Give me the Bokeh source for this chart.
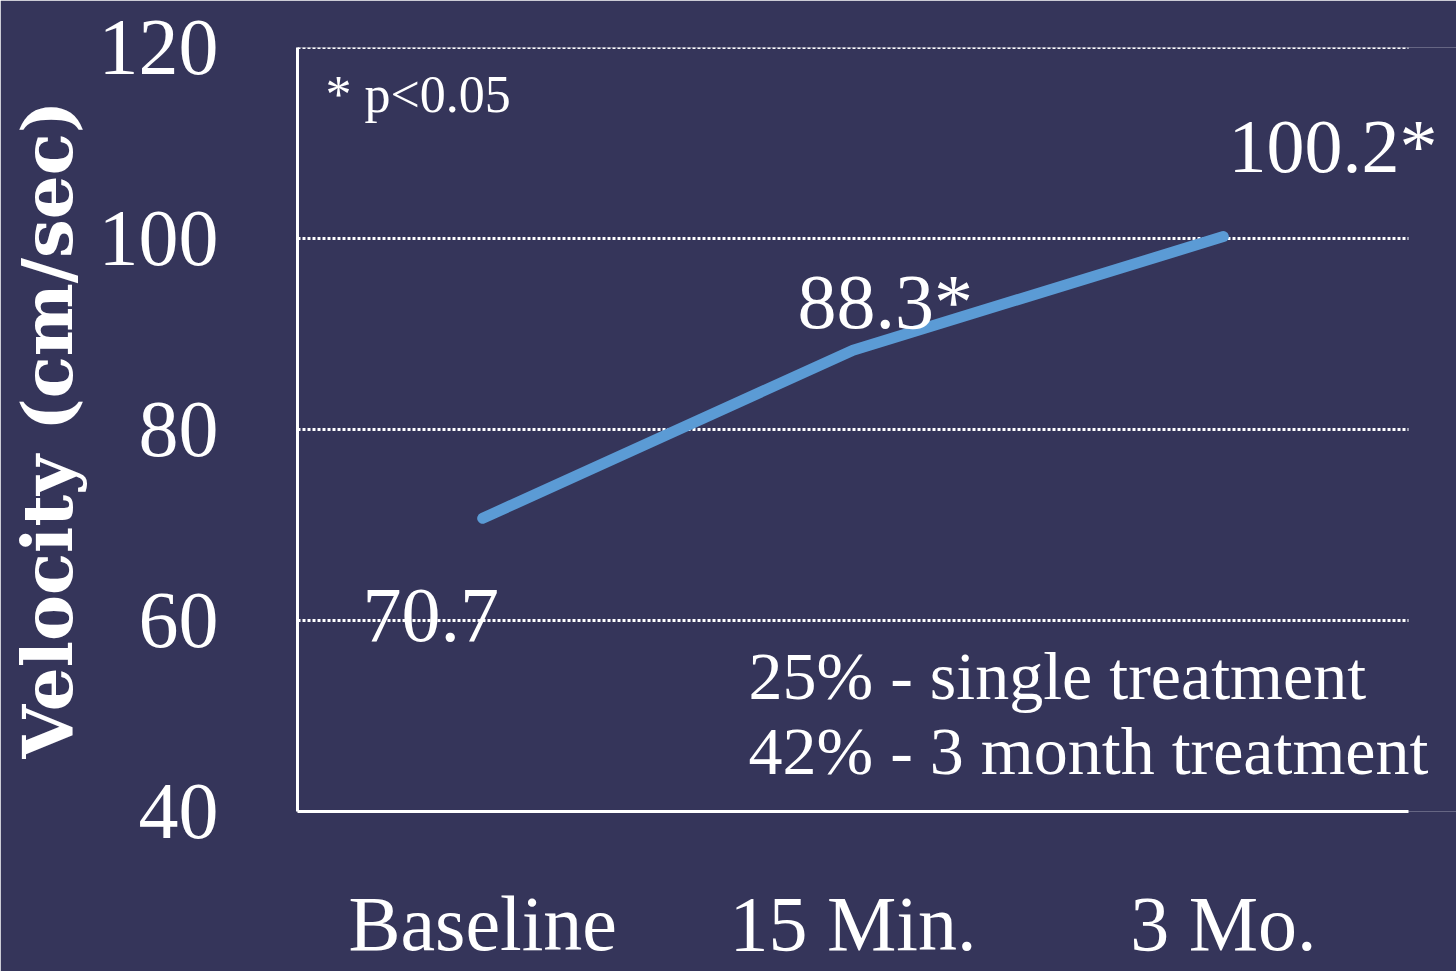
from bokeh.plotting import figure
from bokeh.models import Range1d, FixedTicker, Label
from bokeh.embed import file_html
from bokeh.resources import INLINE

# Mean velocity at each time point
categories = ["Baseline", "15 Min.", "3 Mo."]
velocity = [70.7, 88.3, 100.2]
significant = [False, True, True]
y_ticks = [40, 60, 80, 100, 120]
grid_levels = [60, 80, 100, 120]
notes = ["25% - single treatment", "42% - 3 month treatment"]

BG = "#35355a"
WHITE = "#ffffff"
LINE = "#5b9bd5"
SERIF = "Liberation Serif"

n = len(categories)
xs = [i + 0.5 for i in range(n)]

# plotting area runs to the right edge so that labels past the last
# category are not clipped; axis and grid stop at the last category slot
x_end = n * 1159 / 1111

p = figure(
    width=1456, height=971,
    x_range=Range1d(0, x_end), y_range=Range1d(40, 120),
    output_backend="svg", toolbar_location=None,
    min_border_left=297, min_border_right=0,
    min_border_top=47, min_border_bottom=160,
    background_fill_color=BG, border_fill_color=BG,
    outline_line_color=None,
)

# axes
p.xaxis.ticker = FixedTicker(ticks=xs)
p.xaxis.major_label_overrides = {x: c for x, c in zip(xs, categories)}
p.xaxis.bounds = (0, n)
p.yaxis.ticker = FixedTicker(ticks=y_ticks)
for ax in (p.xaxis[0], p.yaxis[0]):
    ax.axis_line_color = WHITE
    ax.axis_line_width = 3
    ax.major_tick_line_color = None
    ax.minor_tick_line_color = None
    ax.major_label_text_color = WHITE
    ax.major_label_text_font = SERIF

p.xaxis.major_label_text_font_size = "78px"
p.xaxis.major_label_standoff = 62
p.yaxis.major_label_text_font_size = "80px"
p.yaxis.major_label_standoff = 73

p.yaxis.axis_label = "Velocity (cm/sec)"
p.yaxis.axis_label_text_font = "DejaVu Serif"
p.yaxis.axis_label_text_font_style = "bold"
p.yaxis.axis_label_text_font_size = "69px"
p.yaxis.axis_label_text_color = WHITE
p.yaxis.axis_label_standoff = 8

# dotted horizontal grid across the category slots
p.xgrid.grid_line_color = None
p.ygrid.grid_line_color = None
p.segment(x0=[0] * len(grid_levels), x1=[n] * len(grid_levels),
          y0=grid_levels, y1=grid_levels,
          line_color=WHITE, line_width=3, line_dash="3 2")

# velocity line
p.line(xs, velocity, line_color=LINE, line_width=11, line_cap="round",
       line_join="round")

# value labels around each point
label_specs = [
    # (dx, dy, align, size)
    (-0.14, -10.2, "center", "78px"),
    (-0.15, 5.1, "left", "78px"),
    (0.014, 9.5, "left", "76px"),
]
for x, v, sig, (dx, dy, align, size) in zip(xs, velocity, significant, label_specs):
    txt = f"{v:.1f}" + ("*" if sig else "")
    p.add_layout(Label(
        x=x + dx, y=v + dy, text=txt, text_align=align,
        text_baseline="alphabetic", text_color=WHITE,
        text_font=SERIF, text_font_size=size,
    ))

p.add_layout(Label(
    x=0.0756, y=115.1, text="* p<0.05", text_align="left",
    text_baseline="alphabetic", text_color=WHITE,
    text_font=SERIF, text_font_size="52px",
))

for note, y in zip(notes, [54.2, 46.3]):
    p.add_layout(Label(
        x=1.218, y=y, text=note, text_align="left",
        text_baseline="alphabetic", text_color=WHITE,
        text_font=SERIF, text_font_size="68px",
    ))

open("out.html", "w").write(file_html(p, INLINE))
